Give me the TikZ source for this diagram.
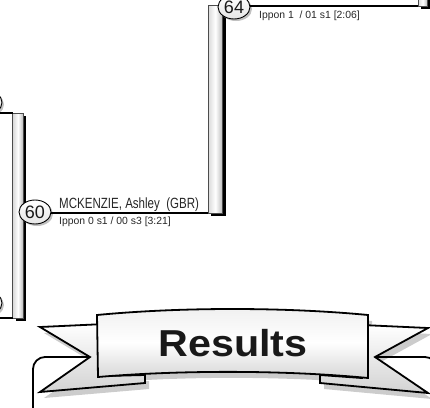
\documentclass[tikz,border=0pt]{standalone}
\usepackage{fontspec}
\setmainfont{Liberation Sans}
\newfontfamily\namefont[FakeStretch=0.78]{Liberation Sans}
\usetikzlibrary{shapes.geometric,shadows}
\begin{document}
\begin{tikzpicture}[x=1pt,y=-1pt,
  conn/.style={line width=1.7pt, black},
  barbox/.style={rectangle, draw=gray!60!black, line width=0.5pt, left color=gray!30, right color=gray!55, middle color=white, inner sep=0pt, outer sep=0pt,
     drop shadow={shadow xshift=3pt, shadow yshift=-3pt, fill=black, opacity=1}},
  matchc/.style={ellipse, draw=black, line width=0.9pt, minimum width=32pt, minimum height=24pt, inner sep=0pt, top color=white, bottom color=gray!20,
     font=\fontsize{18}{18}\selectfont, text=black!90,
     drop shadow={shadow xshift=2pt, shadow yshift=-2pt, fill=gray!70, opacity=0.7}},
  nametext/.style={anchor=base west, inner sep=0pt, font=\namefont\fontsize{14.8}{14.8}\selectfont, text=black!85},
  scoretext/.style={anchor=base west, inner sep=0pt, font=\fontsize{10.4}{10.4}\selectfont, text=black!85},
  ribbonline/.style={draw=black, line width=1.8pt, line join=miter},
  tailfill/.style={top color=white, bottom color=gray!35},
  mainfill/.style={top color=gray!12, bottom color=gray!32, middle color=white},
  shadowfill/.style={fill=black, opacity=0.2},
  boxline/.style={draw=black, line width=1.8pt, rounded corners=12pt}
]
\useasboundingbox (0,0) rectangle (430,407);
\clip (0,0) rectangle (430,407);

% results box
\draw[boxline] (33,440) -- (33,357) -- (437,357) -- (437,440);

% ribbon shadow
\begin{scope}[shift={(4,6)}]
  \fill[shadowfill] (40,327) -- (105,324) -- (105,376) -- (145,375) -- (145,383) -- (40,392) -- (90,357) -- cycle;
  \fill[shadowfill] (428,328) -- (362,325) -- (362,378) -- (320,375) -- (320,383) -- (428,393) -- (375,357) -- cycle;
  \fill[shadowfill] (97,315) .. controls (180,307) and (285,307) .. (368,315) -- (368,378) .. controls (285,370) and (180,370) .. (98,377) -- cycle;
\end{scope}

% ribbon tails
\path[ribbonline, tailfill] (40,327) -- (105,324) -- (105,376) -- (145,375) -- (145,383) -- (40,392) -- (90,357) -- cycle;
\path[ribbonline, tailfill] (428,328) -- (362,325) -- (362,378) -- (320,375) -- (320,383) -- (428,393) -- (375,357) -- cycle;
% ribbon main
\path[ribbonline, mainfill] (97,315) .. controls (180,307) and (285,307) .. (368,315) -- (368,378) .. controls (285,370) and (180,370) .. (98,377) -- cycle;
\node[anchor=base, inner sep=0pt, font=\bfseries\fontsize{37.5}{37.5}\selectfont, text=black!90] (res) at (233,356.5) {\scalebox{1.1}[1]{Results}};

% bracket bars
\node[barbox, minimum width=10.6pt, minimum height=205pt, anchor=north west] (bar1) at (12.7,113) {};
\node[barbox, minimum width=14.7pt, minimum height=208pt, anchor=south west] (bar2) at (208,213.3) {};
\node[barbox, minimum width=9.5pt, minimum height=60pt, anchor=south west] (bar3) at (418,6) {};

% match circles
\node[matchc] (lc1) at (-14,102.5) {};
\node[matchc] (lc2) at (-14,303) {};
\coordinate (l1) at (-3,113);
\coordinate (l2) at (-3,318);
\draw[conn] (l1 |- bar1.north west) -- (bar1.north west);
\draw[conn] (l2 |- bar1.south west) -- (bar1.south west);

\node[matchc] (c60) at (35,212) {60};
\node[matchc] (c64) at (234,7) {64};
\draw[conn] (c60.east |- bar2.south west) -- (bar2.south west);
\draw[conn] (c64.east |- bar3.south west) -- (bar3.south west);

% texts
\node[nametext] (n60) at (59,208.3) {MCKENZIE, Ashley~ (GBR)};
\node[scoretext] (s60) at (59,224.5) {Ippon 0 s1 / 00 s3 [3:21]};
\node[scoretext] (s64) at (259,18.3) {Ippon 1~ / 01 s1 [2:06]};
\end{tikzpicture}
\end{document}
